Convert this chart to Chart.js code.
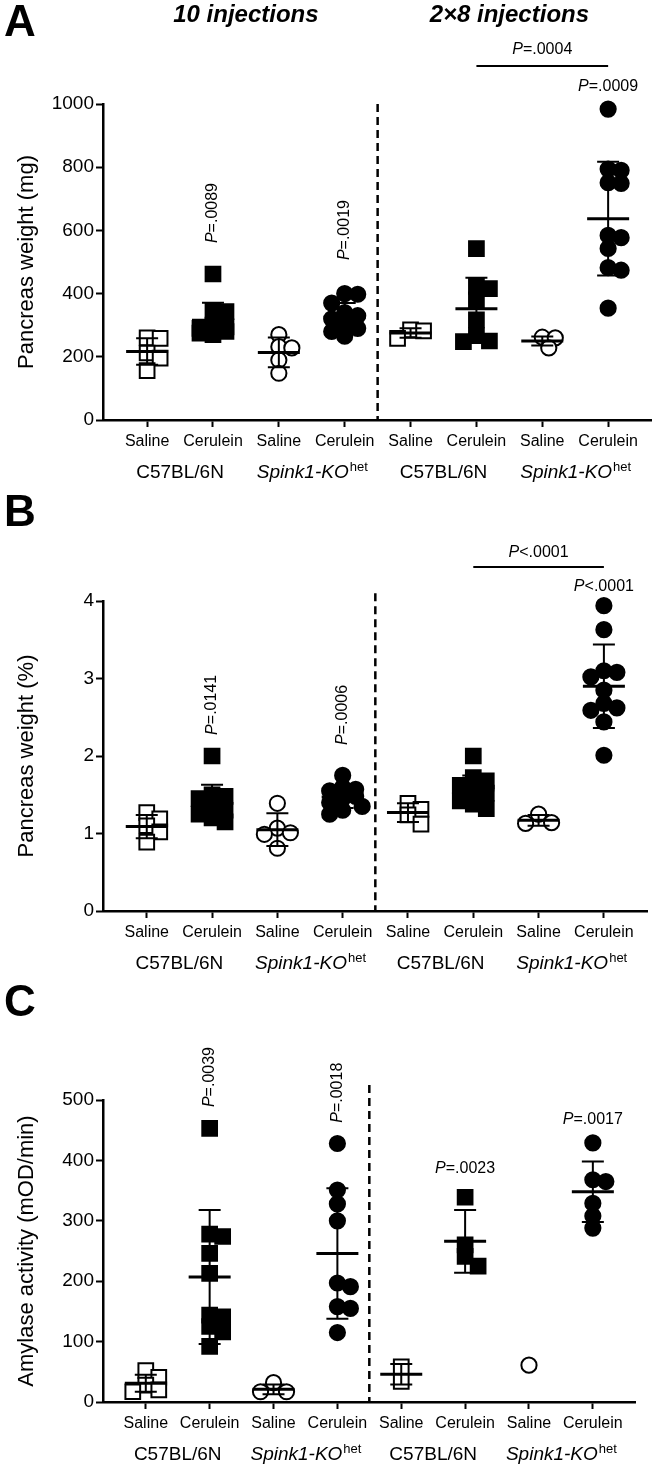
<!DOCTYPE html>
<html>
<head>
<meta charset="utf-8">
<title>Pancreas weight and amylase activity</title>
<script src="https://cdn.jsdelivr.net/npm/chart.js@4.4.1/dist/chart.umd.min.js"></script>
<style>
  body { margin: 0; background: #fff; }
  canvas { position: absolute; left: 0; }
</style>
</head>
<body>
<canvas id="chartA" width="664" height="490" style="top:0px"></canvas>
<canvas id="chartB" width="664" height="490" style="top:490px"></canvas>
<canvas id="chartC" width="664" height="490" style="top:980px"></canvas>
<script>
var groups = ['Saline', 'Cerulein', 'Saline', 'Cerulein', 'Saline', 'Cerulein', 'Saline', 'Cerulein'];
var strains = ['C57BL/6N', 'Spink1-KO', 'C57BL/6N', 'Spink1-KO'];
var protocols = ['10 injections', '2\u00d78 injections'];

// A - pancreas weight (mg)
var weightMg = [
  [260, 258, 212, 196, 156],
  [462, 345, 343, 300, 295, 290, 285, 280, 275, 270],
  [270, 232, 228, 190, 148],
  [400, 398, 370, 340, 330, 320, 310, 300, 290, 280, 265],
  [285, 282, 258],
  [542, 423, 416, 380, 317, 267, 250, 248],
  [262, 260, 228],
  [984, 794, 790, 751, 749, 584, 577, 543, 482, 474, 354]
];
var weightMgMean = [217, 316, 214, 325, 275, 352, 250, 637];
var weightMgSd = [42, 55, 47, 45, 15, 98, 14, 180];
var weightMgTicks = [0, 200, 400, 600, 800, 1000];

// B - pancreas weight (% of body weight)
var weightPct = [
  [1.27, 1.19, 1.10, 1.02, 0.89],
  [2.0, 1.50, 1.48, 1.45, 1.40, 1.35, 1.30, 1.25, 1.20, 1.15],
  [1.39, 1.07, 1.01, 0.99, 0.81],
  [1.75, 1.60, 1.57, 1.55, 1.50, 1.48, 1.45, 1.40, 1.35, 1.30, 1.25],
  [1.39, 1.31, 1.24, 1.12],
  [2.0, 1.72, 1.68, 1.62, 1.58, 1.52, 1.48, 1.42, 1.38, 1.32],
  [1.25, 1.14, 1.13],
  [3.94, 3.63, 3.10, 3.08, 3.02, 2.85, 2.68, 2.62, 2.59, 2.44, 2.01]
];
var weightPctMean = [1.09, 1.41, 1.05, 1.47, 1.27, 1.56, 1.17, 2.90];
var weightPctSd = [0.15, 0.22, 0.21, 0.14, 0.12, 0.19, 0.07, 0.54];
var weightPctTicks = [0, 1, 2, 3, 4];

// C - amylase activity (mOD/min)
var amylase = [
  [52, 41, 28, 20, 17],
  [453, 278, 274, 246, 213, 144, 141, 125, 116, 92],
  [32, 17, 17],
  [428, 351, 328, 300, 197, 191, 158, 155, 115],
  [58, 34],
  [339, 260, 241, 225],
  [61],
  [429, 368, 365, 329, 308, 288]
];
var amylaseMean = [31, 207, 21, 246, 46, 266, null, 348];
var amylaseSd = [14, 111, 8, 108, 17, 52, null, 50];
var amylaseTicks = [0, 100, 200, 300, 400, 500];

var FONT = '"Liberation Sans", Arial, sans-serif';
Chart.defaults.font.family = FONT;
Chart.defaults.color = '#000';

function drawP(ctx, x, y, rest, rotate) {
  var size = '16px ' + FONT;
  ctx.save();
  ctx.translate(x, y);
  if (rotate) ctx.rotate(-Math.PI / 2);
  ctx.textBaseline = 'middle';
  ctx.textAlign = 'left';
  ctx.font = 'italic ' + size;
  var w1 = ctx.measureText('P').width;
  ctx.font = size;
  var w2 = ctx.measureText(rest).width;
  var x0 = -(w1 + w2) / 2;
  ctx.font = 'italic ' + size;
  ctx.fillText('P', x0, 0);
  ctx.font = size;
  ctx.fillText(rest, x0 + w1, 0);
  ctx.restore();
}

function drawStrain(ctx, x, y, name) {
  ctx.save();
  ctx.textBaseline = 'middle';
  ctx.textAlign = 'left';
  if (name === 'Spink1-KO') {
    ctx.font = 'italic 19px ' + FONT;
    var w1 = ctx.measureText(name).width;
    ctx.font = '13px ' + FONT;
    var w2 = ctx.measureText('het').width;
    var x0 = x - (w1 + w2) / 2;
    ctx.font = 'italic 19px ' + FONT;
    ctx.fillText(name, x0, y);
    ctx.font = '13px ' + FONT;
    ctx.fillText('het', x0 + w1 + 1, y - 6);
  } else {
    ctx.font = '19px ' + FONT;
    ctx.textAlign = 'center';
    ctx.fillText(name, x, y);
  }
  ctx.restore();
}

function makePanel(id, cfg) {
  var datasets = cfg.values.map(function (vals, g) {
    var square = g % 4 < 2;
    var filled = g % 2 === 1;
    return {
      data: vals.map(function (v) { return { x: g + 1, y: v }; }),
      pointStyle: square ? 'rect' : 'circle',
      pointRadius: square ? 10.4 : 7.6,
      backgroundColor: filled ? '#000' : '#fff',
      borderColor: '#000',
      borderWidth: 2,
      clip: false
    };
  });

  var overlay = {
    id: 'overlay',
    afterDatasetsDraw: function (chart) {
      var ctx = chart.ctx, xs = chart.scales.x, ys = chart.scales.y, area = chart.chartArea;
      ctx.save();
      ctx.strokeStyle = '#000';
      ctx.fillStyle = '#000';
      // mean and SD
      cfg.mean.forEach(function (m, g) {
        if (m === null) return;
        var px = xs.getPixelForValue(g + 1);
        var sd = cfg.sd[g];
        var top = ys.getPixelForValue(m + sd), bot = ys.getPixelForValue(m - sd);
        ctx.lineWidth = 2;
        ctx.beginPath();
        ctx.moveTo(px, top); ctx.lineTo(px, bot);
        ctx.moveTo(px - 11, top); ctx.lineTo(px + 11, top);
        ctx.moveTo(px - 11, bot); ctx.lineTo(px + 11, bot);
        ctx.stroke();
        ctx.lineWidth = 3;
        var py = ys.getPixelForValue(m);
        ctx.beginPath();
        ctx.moveTo(px - 21, py); ctx.lineTo(px + 21, py);
        ctx.stroke();
      });
      // separator
      var dx = xs.getPixelForValue(4.5);
      ctx.lineWidth = 2.5;
      ctx.setLineDash([8, 5]);
      ctx.beginPath();
      ctx.moveTo(dx, ys.getPixelForValue(cfg.dashTop));
      ctx.lineTo(dx, area.bottom);
      ctx.stroke();
      ctx.setLineDash([]);
      // P values
      cfg.notes.forEach(function (n) {
        drawP(ctx, xs.getPixelForValue(n.x), ys.getPixelForValue(n.y), n.text, n.rot);
      });
      if (cfg.bracket) {
        var by = ys.getPixelForValue(cfg.bracket.y);
        ctx.lineWidth = 2;
        ctx.beginPath();
        ctx.moveTo(xs.getPixelForValue(cfg.bracket.from), by);
        ctx.lineTo(xs.getPixelForValue(cfg.bracket.to), by);
        ctx.stroke();
      }
      // strain labels
      strains.forEach(function (s, k) {
        drawStrain(ctx, xs.getPixelForValue(2 * k + 1.5), area.bottom + 53, s);
      });
      // axis title
      ctx.save();
      ctx.translate(27, (area.top + area.bottom) / 2);
      ctx.rotate(-Math.PI / 2);
      ctx.font = '22px ' + FONT;
      ctx.textAlign = 'center';
      ctx.textBaseline = 'middle';
      ctx.fillText(cfg.yTitle, 0, 0);
      ctx.restore();
      // panel letter
      ctx.font = 'bold 44px "Liberation Sans Narrow", ' + FONT;
      ctx.textAlign = 'left';
      ctx.textBaseline = 'top';
      ctx.fillText(cfg.letter, 4, 2);
      if (cfg.showProtocols) {
        ctx.font = 'italic bold 24px ' + FONT;
        ctx.textAlign = 'center';
        ctx.textBaseline = 'middle';
        ctx.fillText(protocols[0], xs.getPixelForValue(2.5), 15);
        ctx.fillText(protocols[1], xs.getPixelForValue(6.5), 15);
      }
      ctx.restore();
    }
  };

  var chart = new Chart(document.getElementById(id), {
    type: 'scatter',
    data: { datasets: datasets },
    options: {
      responsive: false,
      animation: false,
      events: [],
      layout: { padding: { top: cfg.top, right: cfg.right, left: 0, bottom: 0 } },
      plugins: { legend: { display: false }, tooltip: { enabled: false } },
      scales: {
        x: {
          type: 'linear', min: 0.33, max: 8.66,
          afterBuildTicks: function (s) { s.ticks = groups.map(function (g, i) { return { value: i + 1 }; }); },
          afterFit: function (s) { s.height = 490 - cfg.bottom; },
          ticks: {
            autoSkip: false, maxRotation: 0, minRotation: 0, padding: 5,
            font: { size: 16 },
            callback: function (v) { return groups[Math.round(v) - 1]; }
          },
          grid: { drawOnChartArea: false, drawTicks: true, tickLength: 7, tickWidth: 2, tickColor: '#000' },
          border: { color: '#000', width: 2.5 }
        },
        y: {
          min: 0, max: cfg.yMax,
          afterBuildTicks: function (s) { s.ticks = cfg.yTicks.map(function (v) { return { value: v }; }); },
          afterFit: function (s) { s.width = 103; },
          ticks: { font: { size: 19 }, padding: 2, callback: function (v) { return String(v); } },
          grid: { drawOnChartArea: false, drawTicks: true, tickLength: 7, tickWidth: 2, tickColor: '#000' },
          border: { color: '#000', width: 2.5 }
        }
      }
    },
    plugins: [overlay]
  });

  // spread points that sit at nearly the same height sideways (dot plot),
  // keeping each column within about +-20px and accepting overlap beyond that
  var xs = chart.scales.x, ys = chart.scales.y;
  var pxPerX = xs.getPixelForValue(2) - xs.getPixelForValue(1);
  cfg.values.forEach(function (vals, g) {
    var square = g % 4 < 2;
    var gapX = 13, gapY = 11, step = 6.5;
    var placed = [];
    var pts = vals.map(function (v) {
      var py = ys.getPixelForValue(v);
      var best = 0, bestHits = Infinity;
      for (var k = 0; k < 7; k++) {
        var c = (k % 2 ? 1 : -1) * Math.ceil(k / 2) * step;
        var hits = placed.filter(function (p) {
          var ddx = Math.abs(p.x - c) / gapX, ddy = Math.abs(p.y - py) / gapY;
          return square ? (ddx < 1 && ddy < 1) : (ddx * ddx + ddy * ddy < 1);
        }).length;
        if (hits < bestHits) { best = c; bestHits = hits; }
        if (hits === 0) break;
      }
      placed.push({ x: best, y: py });
      return { x: g + 1 + best / pxPerX, y: v };
    });
    chart.data.datasets[g].data = pts;
  });
  chart.update('none');
  return chart;
}

makePanel('chartA', {
  letter: 'A', showProtocols: true,
  values: weightMg, mean: weightMgMean, sd: weightMgSd,
  yMax: 1000, yTicks: weightMgTicks, yTitle: 'Pancreas weight (mg)',
  top: 104, bottom: 420, right: 6, dashTop: 1000,
  notes: [
    { text: '=.0089', x: 2, y: 655, rot: true },
    { text: '=.0019', x: 4, y: 601, rot: true },
    { text: '=.0009', x: 8, y: 1054 },
    { text: '=.0004', x: 7, y: 1171 }
  ],
  bracket: { from: 6, to: 8, y: 1120 }
});

makePanel('chartB', {
  letter: 'B',
  values: weightPct, mean: weightPctMean, sd: weightPctSd,
  yMax: 4, yTicks: weightPctTicks, yTitle: 'Pancreas weight (%)',
  top: 111, bottom: 421, right: 17, dashTop: 4.1,
  notes: [
    { text: '=.0141', x: 2, y: 2.66, rot: true },
    { text: '=.0006', x: 4, y: 2.53, rot: true },
    { text: '<.0001', x: 8, y: 4.19 },
    { text: '<.0001', x: 7, y: 4.63 }
  ],
  bracket: { from: 6, to: 8, y: 4.44 }
});

makePanel('chartC', {
  letter: 'C',
  values: amylase, mean: amylaseMean, sd: amylaseSd,
  yMax: 500, yTicks: amylaseTicks, yTitle: 'Amylase activity (mOD/min)',
  top: 120, bottom: 422, right: 29, dashTop: 525,
  notes: [
    { text: '=.0039', x: 2, y: 538, rot: true },
    { text: '=.0018', x: 4, y: 512, rot: true },
    { text: '=.0023', x: 6, y: 387 },
    { text: '=.0017', x: 8, y: 468 }
  ]
});
</script>
</body>
</html>
